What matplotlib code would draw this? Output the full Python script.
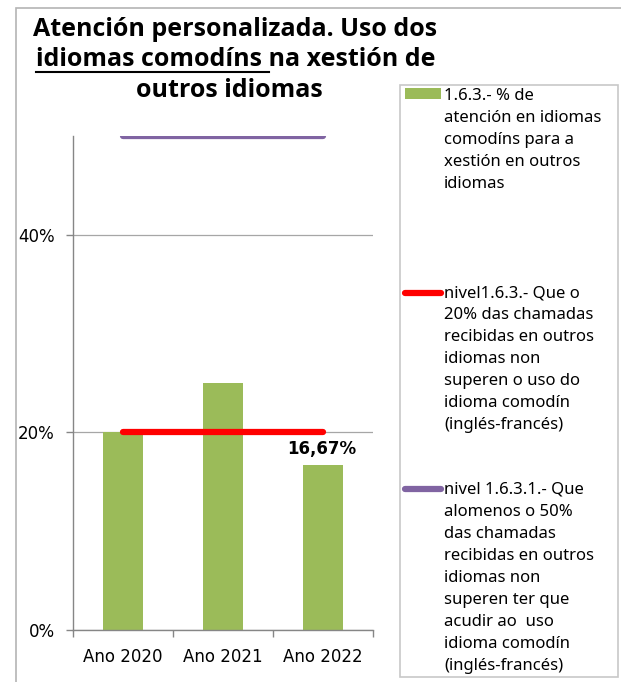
import matplotlib
matplotlib.use("Agg")
import matplotlib.pyplot as plt
from matplotlib.patches import Rectangle
from matplotlib.lines import Line2D
from matplotlib.ticker import FuncFormatter, FixedLocator

W, H = 621, 682

anos = ["Ano 2020", "Ano 2021", "Ano 2022"]
atencion = [0.20, 0.25, 0.1667]
nivel_163 = [0.20, 0.20, 0.20]
nivel_1631 = [0.50, 0.50, 0.50]
etiqueta_2022 = "16,67%"

leg_labels = [
    "1.6.3.- % de\natención en idiomas\ncomodíns para a\nxestión en outros\nidiomas",
    "nivel1.6.3.- Que o\n20% das chamadas\nrecibidas en outros\nidiomas non\nsuperen o uso do\nidioma comodín\n(inglés-francés)",
    "nivel 1.6.3.1.- Que\nalomenos o 50%\ndas chamadas\nrecibidas en outros\nidiomas non\nsuperen ter que\nacudir ao  uso\nidioma comodín\n(inglés-francés)",
]

verde = "#9BBB59"
vermello = "#FF0000"
morado = "#8064A2"
gris = "#868686"


def px(x, y):
    # pixel coords (from top-left) -> figure fraction
    return x / W, 1 - y / H


fig = plt.figure(figsize=(W / 100, H / 100), dpi=100)

# outer chart frame
fig.patches.append(Rectangle(px(15.5, 700), 700 / W, (700 - 7.5) / H, transform=fig.transFigure,
                             fill=False, ec="#b4b4b4", lw=1.2))

ax = fig.add_axes([73 / W, 1 - 630 / H, 300 / W, 494 / H])
x = list(range(len(anos)))
ax.bar(x, atencion, width=0.4, color=verde, zorder=2)
ax.plot(x, nivel_163, color=vermello, lw=4.5, solid_capstyle="round", zorder=3)
ax.plot(x, nivel_1631, color=morado, lw=4.5, solid_capstyle="round", zorder=3)
ax.annotate(etiqueta_2022, (2, atencion[2]), xytext=(-1, 8), textcoords="offset points",
            ha="center", va="baseline", fontsize=12, fontweight="bold", family="DejaVu Sans")

ax.set_xlim(-0.5, 2.5)
ax.set_ylim(0, 0.5)
ax.set_yticks([0, 0.2, 0.4])
ax.yaxis.set_major_formatter(FuncFormatter(lambda v, p: f"{v * 100:.0f}%"))
ax.set_xticks(x)
ax.set_xticklabels(anos)
ax.xaxis.set_minor_locator(FixedLocator([-0.5, 0.5, 1.5, 2.5]))
ax.tick_params(axis="x", which="major", length=0, pad=13, labelsize=12)
ax.tick_params(axis="x", which="minor", length=5, width=1, color=gris)
ax.tick_params(axis="y", length=5, width=1, color=gris, pad=8, labelsize=12)
ax.grid(axis="y", color="#a6a6a6", lw=0.9, zorder=0)
for s in ["top", "right"]:
    ax.spines[s].set_visible(False)
for s in ["left", "bottom"]:
    ax.spines[s].set_color(gris)
    ax.spines[s].set_linewidth(1)

# title
tfont = dict(family="Open Sans", fontweight="bold", fontsize=18, ha="center", va="baseline")
fig.text(*px(235, 35.5), "Atención personalizada. Uso dos", **tfont)
l2 = fig.text(*px(236, 65.5), "idiomas comodíns na xestión de", **tfont)
fig.text(*px(229, 97), "outros idiomas", **tfont)

fig.canvas.draw()
r = fig.canvas.get_renderer()
bb = l2.get_window_extent(r)
tmp = fig.text(0, 0, "idiomas comodíns", **tfont)
w1 = tmp.get_window_extent(r).width
tmp.set_text("a a")
wa = tmp.get_window_extent(r).width
tmp.set_text("aa")
wa -= tmp.get_window_extent(r).width
tmp.remove()
uy = bb.y0 - 1
fig.add_artist(Line2D([bb.x0, bb.x0 + w1 + wa], [uy + 0.5, uy + 0.5], transform=None, color="black", lw=1.5))

# legend box
fig.patches.append(Rectangle(px(400, 677), 218 / W, (677 - 85) / H, transform=fig.transFigure,
                             fill=False, ec="#c8c8c8", lw=1.2))
fig.patches.append(Rectangle(px(405, 99), 36 / W, 11 / H, transform=fig.transFigure,
                             fc=verde, ec="none"))
fig.add_artist(Line2D([405 / W, 441 / W], [1 - 292.5 / H] * 2, color=vermello, lw=4.5,
                      solid_capstyle="round", transform=fig.transFigure))
fig.add_artist(Line2D([405 / W, 441 / W], [1 - 489 / H] * 2, color=morado, lw=4.5,
                      solid_capstyle="round", transform=fig.transFigure))
for lab, y0 in zip(leg_labels, [100, 297, 494]):
    for i, linea in enumerate(lab.split("\n")):
        fig.text(*px(444, y0 + 22 * i), linea, family="Noto Sans", fontsize=12,
                 ha="left", va="baseline")

fig.savefig("out.png", dpi=100)
